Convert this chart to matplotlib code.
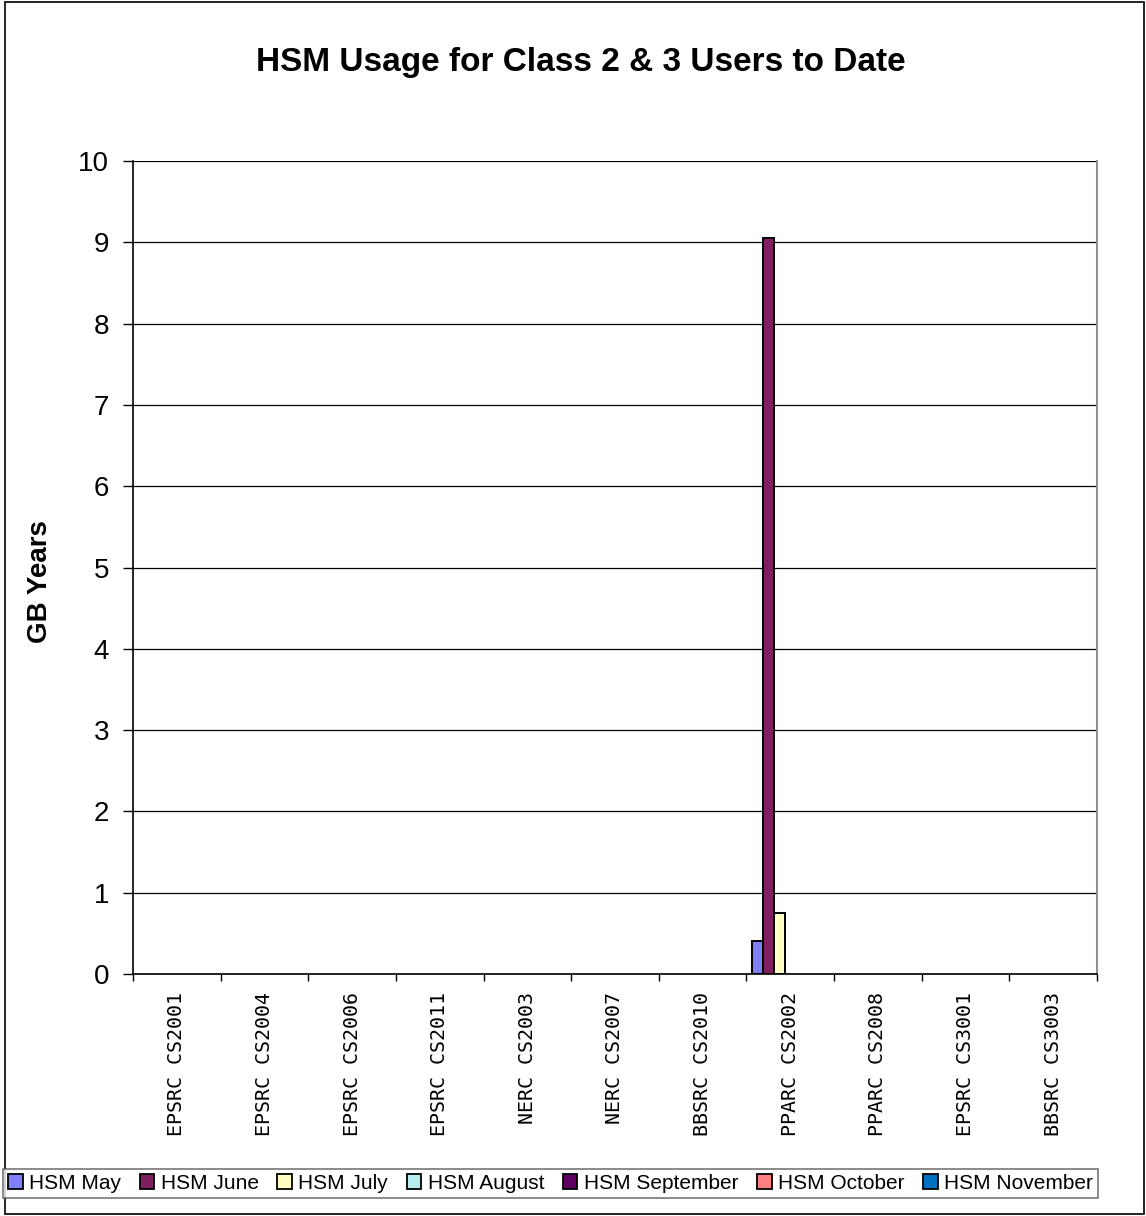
import matplotlib
matplotlib.use("Agg")
import matplotlib.pyplot as plt
import numpy as np
from matplotlib.patches import Rectangle, Patch
from matplotlib.ticker import FixedLocator, MultipleLocator

categories = ["EPSRC CS2001", "EPSRC CS2004", "EPSRC CS2006", "EPSRC CS2011",
              "NERC CS2003", "NERC CS2007", "BBSRC CS2010", "PPARC CS2002",
              "PPARC CS2008", "EPSRC CS3001", "BBSRC CS3003"]
series_names = ["HSM May", "HSM June", "HSM July", "HSM August",
                "HSM September", "HSM October", "HSM November"]
hsm_may = [0, 0, 0, 0, 0, 0, 0, 0.41, 0, 0, 0]
hsm_june = [0, 0, 0, 0, 0, 0, 0, 9.05, 0, 0, 0]
hsm_july = [0, 0, 0, 0, 0, 0, 0, 0.75, 0, 0, 0]
hsm_august = [0, 0, 0, 0, 0, 0, 0, 0, 0, 0, 0]
hsm_september = [0, 0, 0, 0, 0, 0, 0, 0, 0, 0, 0]
hsm_october = [0, 0, 0, 0, 0, 0, 0, 0, 0, 0, 0]
hsm_november = [0, 0, 0, 0, 0, 0, 0, 0, 0, 0, 0]
colors = ["#7F7FF8", "#7F1F5F", "#FFFFC4", "#B8EEEE", "#600060", "#FF8080", "#0070C0"]

values = [hsm_may, hsm_june, hsm_july, hsm_august, hsm_september, hsm_october, hsm_november]

W, H = 1146, 1216
fig = plt.figure(figsize=(W / 100, H / 100), dpi=100)
fig.patch.set_facecolor("white")

left, right, top, bottom = 133, 1097, 161, 974
ax = fig.add_axes([left / W, 1 - bottom / H, (right - left) / W, (bottom - top) / H])

x = np.arange(len(categories))
bw = 0.125
for i, (vals, col) in enumerate(zip(values, colors)):
    v = np.array(vals, dtype=float)
    mask = v > 0
    ax.bar(x[mask] + (i - 3) * bw, v[mask], width=bw, color=col,
           edgecolor="black", linewidth=1.4, zorder=3)

ax.set_xlim(-0.5, len(categories) - 0.5)
ax.set_ylim(0, 10)
ax.yaxis.set_major_locator(MultipleLocator(1))
ax.grid(axis="y", color="black", linewidth=0.9, zorder=0)
ax.set_axisbelow(True)

ax.set_xticks(x)
ax.set_xticklabels(categories, rotation=90, family="DejaVu Sans Mono",
                   fontsize=14.4, va="top")
ax.xaxis.set_minor_locator(FixedLocator(np.arange(-0.5, len(categories), 1.0)))
ax.tick_params(axis="x", which="major", length=0, pad=13)
ax.tick_params(axis="x", which="minor", length=5, width=1, color="black", direction="out")
ax.tick_params(axis="y", which="major", length=7.2, width=1, direction="out",
               labelsize=20, pad=10)
for lab in ax.get_yticklabels():
    lab.set_family("Liberation Sans")

for s in ["left", "bottom"]:
    ax.spines[s].set_color("black")
    ax.spines[s].set_linewidth(1.2)
ax.spines["right"].set_color("#909090")
ax.spines["right"].set_linewidth(1.5)
ax.spines["top"].set_visible(False)

ax.set_ylabel("GB Years", family="Liberation Sans", fontweight="bold",
              fontsize=20, va="center")
ax.yaxis.set_label_coords((40 - left) / (right - left), (bottom - 582) / (bottom - top))

fig.text(581 / W, 1 - 62 / H,
         "HSM Usage for Class 2 & 3 Users to Date", ha="center", va="center",
         family="Liberation Sans", fontweight="bold", fontsize=24)

# outer border
fig.patches.append(Rectangle((5 / W, 2 / H), (W - 7) / W, (H - 4) / H,
                             transform=fig.transFigure, fill=False,
                             edgecolor="black", linewidth=1.2))

handles = [Patch(facecolor=c, edgecolor="black", linewidth=1.3) for c in colors]
leg = fig.legend(handles, series_names, ncol=7, loc="lower left", mode="expand",
                 bbox_to_anchor=(3 / W, 1 - 1198 / H, 1095 / W, 31 / H),
                 prop={"family": "Liberation Sans", "size": 15},
                 handlelength=0.7, handleheight=0.7, handletextpad=0.3,
                 columnspacing=0.3, frameon=True, fancybox=False,
                 borderpad=0.25, borderaxespad=0)
leg.get_frame().set_edgecolor("#555555")
leg.get_frame().set_linewidth(1.2)

fig.savefig("out.png", dpi=100, facecolor="white")
